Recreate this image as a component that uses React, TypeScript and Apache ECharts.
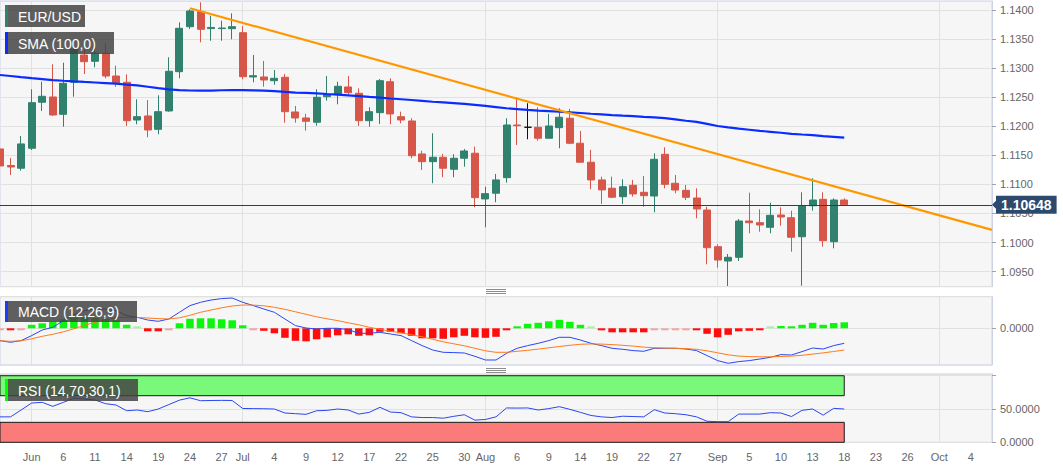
import React, { useEffect, useRef } from "react";
import * as echarts from "echarts";

// ---------- DATA ----------
const dates: string[] = [
  "2019-05-29", "2019-05-30", "2019-05-31",
  "2019-06-03", "2019-06-04", "2019-06-05", "2019-06-06", "2019-06-07",
  "2019-06-10", "2019-06-11", "2019-06-12", "2019-06-13", "2019-06-14",
  "2019-06-17", "2019-06-18", "2019-06-19", "2019-06-20", "2019-06-21",
  "2019-06-24", "2019-06-25", "2019-06-26", "2019-06-27", "2019-06-28",
  "2019-07-01", "2019-07-02", "2019-07-03", "2019-07-04", "2019-07-05",
  "2019-07-08", "2019-07-09", "2019-07-10", "2019-07-11", "2019-07-12",
  "2019-07-15", "2019-07-16", "2019-07-17", "2019-07-18", "2019-07-19",
  "2019-07-22", "2019-07-23", "2019-07-24", "2019-07-25", "2019-07-26",
  "2019-07-29", "2019-07-30", "2019-07-31",
  "2019-08-01", "2019-08-02",
  "2019-08-05", "2019-08-06", "2019-08-07", "2019-08-08", "2019-08-09",
  "2019-08-12", "2019-08-13", "2019-08-14", "2019-08-15", "2019-08-16",
  "2019-08-19", "2019-08-20", "2019-08-21", "2019-08-22", "2019-08-23",
  "2019-08-26", "2019-08-27", "2019-08-28", "2019-08-29", "2019-08-30",
  "2019-09-02", "2019-09-03", "2019-09-04", "2019-09-05", "2019-09-06",
  "2019-09-09", "2019-09-10", "2019-09-11", "2019-09-12", "2019-09-13",
  "2019-09-16", "2019-09-17", "2019-09-18", "2019-09-19", "2019-09-20",
  "2019-09-23", "2019-09-24", "2019-09-25", "2019-09-26", "2019-09-27",
  "2019-09-30",
  "2019-10-01", "2019-10-02", "2019-10-03", "2019-10-04",
  "2019-10-07", "2019-10-08",
];

const tickLabels: Record<string, string> = {
  "2019-06-03": "Jun", "2019-06-06": "6", "2019-06-11": "11", "2019-06-14": "14",
  "2019-06-19": "19", "2019-06-24": "24", "2019-06-27": "27",
  "2019-07-01": "Jul", "2019-07-04": "4", "2019-07-09": "9", "2019-07-12": "12",
  "2019-07-17": "17", "2019-07-22": "22", "2019-07-25": "25", "2019-07-30": "30",
  "2019-08-01": "Aug", "2019-08-06": "6", "2019-08-09": "9", "2019-08-14": "14",
  "2019-08-19": "19", "2019-08-22": "22", "2019-08-27": "27",
  "2019-09-02": "Sep", "2019-09-05": "5", "2019-09-10": "10", "2019-09-13": "13",
  "2019-09-18": "18", "2019-09-23": "23", "2019-09-26": "26",
  "2019-10-01": "Oct", "2019-10-04": "4",
};

const monthStarts: string[] = ["2019-06-03", "2019-07-01", "2019-08-01", "2019-09-02", "2019-10-01"];

// [open, close, low, high]
const ohlc: number[][] = [
  [1.1161, 1.11317, 1.11249, 1.11735],
  [1.11325, 1.113, 1.11163, 1.11455],
  [1.11278, 1.11696, 1.11237, 1.11833],
  [1.11622, 1.12406, 1.11592, 1.12636],
  [1.12413, 1.12516, 1.12263, 1.12767],
  [1.12504, 1.12194, 1.1218, 1.13066],
  [1.12206, 1.12739, 1.11993, 1.13094],
  [1.12757, 1.13329, 1.12509, 1.13398],
  [1.13226, 1.13111, 1.12899, 1.13312],
  [1.13118, 1.13255, 1.13015, 1.13341],
  [1.13255, 1.12865, 1.12825, 1.13427],
  [1.12865, 1.1275, 1.12681, 1.13042],
  [1.12757, 1.12096, 1.12005, 1.12894],
  [1.12108, 1.12165, 1.12034, 1.12464],
  [1.12177, 1.11936, 1.11811, 1.12452],
  [1.11948, 1.12251, 1.11862, 1.12533],
  [1.12263, 1.12946, 1.1225, 1.13187],
  [1.12939, 1.13685, 1.12825, 1.13788],
  [1.13713, 1.13983, 1.13673, 1.14012],
  [1.13971, 1.13668, 1.13445, 1.14132],
  [1.1368, 1.137, 1.13472, 1.13902],
  [1.1368, 1.1369, 1.13472, 1.13816],
  [1.13679, 1.13713, 1.13496, 1.13943],
  [1.1361, 1.12853, 1.12808, 1.13725],
  [1.12848, 1.1287, 1.12757, 1.13226],
  [1.12848, 1.12796, 1.12681, 1.13123],
  [1.12784, 1.12825, 1.12715, 1.12968],
  [1.12843, 1.12251, 1.12062, 1.12899],
  [1.12246, 1.12143, 1.12062, 1.12349],
  [1.12143, 1.12086, 1.11924, 1.12212],
  [1.12069, 1.12499, 1.1201, 1.12636],
  [1.12509, 1.12543, 1.1244, 1.12865],
  [1.1255, 1.12688, 1.12378, 1.12767],
  [1.12676, 1.12578, 1.1255, 1.12865],
  [1.12567, 1.12096, 1.12005, 1.12653],
  [1.12096, 1.12251, 1.11993, 1.12327],
  [1.12234, 1.12784, 1.1204, 1.12813],
  [1.12767, 1.12212, 1.12034, 1.12825],
  [1.12165, 1.12108, 1.12051, 1.12251],
  [1.12091, 1.11494, 1.1145, 1.12138],
  [1.11524, 1.11391, 1.11249, 1.1158],
  [1.11391, 1.11467, 1.1102, 1.1188],
  [1.11467, 1.11278, 1.11123, 1.11524],
  [1.1126, 1.1145, 1.11123, 1.11519],
  [1.1145, 1.11575, 1.11305, 1.1161],
  [1.11536, 1.10772, 1.10607, 1.11649],
  [1.1075, 1.10841, 1.10263, 1.10961],
  [1.10848, 1.11077, 1.10693, 1.1118],
  [1.11116, 1.12022, 1.1103, 1.12138],
  [1.12022, 1.1201, 1.11678, 1.12499],
  [1.11983, 1.11983, 1.11776, 1.12396],
  [1.11983, 1.11794, 1.11753, 1.12327],
  [1.11794, 1.12005, 1.1179, 1.12212],
  [1.11976, 1.12155, 1.11622, 1.1231],
  [1.12138, 1.11708, 1.11691, 1.12298],
  [1.11708, 1.11381, 1.1138, 1.11919],
  [1.11381, 1.11077, 1.10917, 1.11593],
  [1.11077, 1.10905, 1.10664, 1.11133],
  [1.10934, 1.10779, 1.10762, 1.11133],
  [1.10789, 1.10961, 1.10664, 1.11089],
  [1.10985, 1.10836, 1.10789, 1.11077],
  [1.10864, 1.10806, 1.10616, 1.11144],
  [1.108, 1.11432, 1.1052, 1.11535],
  [1.11518, 1.11001, 1.10933, 1.11638],
  [1.11019, 1.10903, 1.10847, 1.11162],
  [1.10898, 1.10778, 1.10731, 1.10989],
  [1.10766, 1.10577, 1.10417, 1.10933],
  [1.10559, 1.09911, 1.09625, 1.10616],
  [1.09928, 1.09699, 1.09567, 1.09969],
  [1.09682, 1.09746, 1.09252, 1.09802],
  [1.09746, 1.1037, 1.09682, 1.10405],
  [1.1037, 1.10341, 1.10159, 1.10857],
  [1.10341, 1.10301, 1.10186, 1.10571],
  [1.10262, 1.10468, 1.10159, 1.10685],
  [1.10473, 1.10439, 1.10289, 1.10606],
  [1.10427, 1.1009, 1.09842, 1.10547],
  [1.101, 1.10633, 1.09257, 1.10864],
  [1.10633, 1.10731, 1.10547, 1.11105],
  [1.10743, 1.10031, 1.09928, 1.10864],
  [1.10014, 1.10731, 1.099, 1.1076],
  [1.10731, 1.10648, 1.1064, 1.1076],
];

const sma100: number[] = [
  1.12882, 1.12865, 1.12845, 1.12827, 1.12812, 1.12795, 1.12783, 1.12772, 1.12762, 1.12753,
  1.12743, 1.12733, 1.12718, 1.12703, 1.1268, 1.12655, 1.12635, 1.12622, 1.12615, 1.12612,
  1.12614, 1.1262, 1.12624, 1.12623, 1.12618, 1.12613, 1.12605, 1.12592, 1.1258, 1.12573,
  1.12565, 1.12555, 1.12546, 1.12533, 1.1252, 1.12505, 1.12492, 1.12478, 1.12465, 1.12452,
  1.12437, 1.12422, 1.1241, 1.12398, 1.12385, 1.12368, 1.1235, 1.1233, 1.1231, 1.12296,
  1.12282, 1.1227, 1.12262, 1.1225, 1.1224, 1.12228, 1.12215, 1.12204, 1.12193, 1.12183,
  1.12174, 1.12162, 1.12152, 1.1214, 1.12118, 1.12095, 1.12075, 1.1204, 1.12005, 1.1198,
  1.11958, 1.1194, 1.11922, 1.11905, 1.11888, 1.1187, 1.11858, 1.11848, 1.1183, 1.11818,
  1.11803,
];

const trendStartDate = "2019-06-24";
const trendStartValue = 1.1403;
const trendEndDate = "2019-10-08";
const trendEndValue = 1.10217;
const lastPrice = 1.10648;

const macdLine: number[] = [
  -0.00123, -0.0014, -0.00123, -0.00073, -0.00017, 0.0001, 0.00077, 0.00137, 0.00177, 0.00193,
  0.00193, 0.00177, 0.00127, 0.0011, 0.00083, 0.0007, 0.00093, 0.0016, 0.00227, 0.0026,
  0.00283, 0.00297, 0.00303, 0.0026, 0.00227, 0.00193, 0.0016, 0.00093, 0.00027, 0.00003,
  -0.00007, 0.0, 0.0, -0.00013, -0.0005, -0.0005, -0.0004, -0.00057, -0.00073, -0.00123,
  -0.00173, -0.00217, -0.0024, -0.00243, -0.00247, -0.0028, -0.00317, -0.00317, -0.0025, -0.002,
  -0.00173, -0.0015, -0.00123, -0.0009, -0.0009, -0.00117, -0.0015, -0.00173, -0.002, -0.0021,
  -0.00223, -0.0023, -0.002, -0.002, -0.002, -0.00207, -0.00223, -0.00273, -0.00323, -0.0035,
  -0.00333, -0.00323, -0.00307, -0.0029, -0.00263, -0.00267, -0.00233, -0.00197, -0.00207, -0.00173,
  -0.0015,
];

const macdSignal: number[] = [
  -0.00125, -0.0013, -0.00125, -0.00105, -0.0008, -0.0006, -0.00035, -0.00005, 0.0003, 0.0006,
  0.00085, 0.00105, 0.0011, 0.00108, 0.00103, 0.00097, 0.00093, 0.00105, 0.0013, 0.0016,
  0.00183, 0.00205, 0.00223, 0.00233, 0.00232, 0.00225, 0.0021, 0.0019, 0.00165, 0.0014,
  0.00115, 0.00095, 0.00077, 0.00055, 0.00035, 0.0001, -0.0001, -0.0003, -0.00045, -0.00065,
  -0.00085, -0.0011, -0.00135, -0.00155, -0.00175, -0.002, -0.00225, -0.0024, -0.0024, -0.0023,
  -0.0022, -0.00208, -0.00195, -0.00182, -0.0017, -0.0016, -0.00156, -0.00158, -0.00163, -0.0017,
  -0.00178, -0.00188, -0.00195, -0.00198, -0.002, -0.00203, -0.0021, -0.00225, -0.00245, -0.00265,
  -0.00278, -0.00283, -0.00285, -0.00285, -0.00282, -0.00278, -0.0027, -0.00258, -0.00246, -0.00232,
  -0.00217,
];

const macdHist: number[] = [
  -0.00003, -0.00008, -0.00003, 0.00035, 0.0005, 0.00065, 0.0009, 0.0011, 0.0011, 0.001,
  0.0009, 0.0008, 0.00035, 0.00003, -0.0003, -0.0003, -0.00003, 0.0005, 0.00095, 0.001,
  0.001, 0.0009, 0.0008, 0.0003, -0.00003, -0.00025, -0.0005, -0.00095, -0.00125, -0.0013,
  -0.0011, -0.0009, -0.0007, -0.0006, -0.00075, -0.0007, -0.00035, -0.00035, -0.0005, -0.00075,
  -0.001, -0.001, -0.00105, -0.0009, -0.00075, -0.0009, -0.00095, -0.00085, -0.0001, 0.0002,
  0.00045, 0.00055, 0.0007, 0.00085, 0.00065, 0.00035, 0.00003, -0.00015, -0.0004, -0.0004,
  -0.0004, -0.0004, -0.00005, -0.00005, -0.00005, -0.00005, -0.00015, -0.00055, -0.0009, -0.00065,
  -0.0003, -0.00025, -0.0001, 0.00003, 0.00023, 0.00017, 0.00035, 0.00055, 0.00035, 0.00053,
  0.0006,
];

const rsi14: number[] = [
  38.2, 38.2, 48.5, 59, 60, 54, 60, 66.2, 65, 63.6,
  58, 56, 47.4, 48.5, 46, 50, 56.7, 63.3, 66.8, 62.5,
  62.8, 63, 62.8, 50.8, 50.6, 50.4, 50, 44, 43, 42,
  47.4, 48, 50, 48.5, 42.4, 45, 52.6, 45.5, 44.5, 38.2,
  37.2, 37.2, 36.2, 39, 41.4, 33.3, 34.3, 38.2, 51.6, 51.4,
  51.6, 48.5, 50.6, 53.5, 49.5, 45, 40.3, 38.2, 37.2, 39.2,
  38.7, 38.2, 49, 44, 43, 41.4, 38.2, 31.6, 31, 31,
  42.4, 42.4, 42.4, 44.5, 44, 38.7, 48, 50, 40.8, 51,
  50,
];

const rsiUpper = 70;
const rsiLower = 30;

// ---------- STYLE ----------
const FONT = '"Liberation Sans", Arial, sans-serif';
const UP = "#30816d";
const DOWN = "#d6574a";
const GRID_BG = "#f6f6f6";
const BORDER = "#cdd3e3";
const SPLIT = "#e1e1e1";
const TAG = "#2c4a6e";

function labelBox(x: number, y: number, w: number, h: number, text: string, strip: string) {
  return {
    type: "group",
    x,
    y,
    z: 100,
    silent: true,
    children: [
      { type: "rect", shape: { x: 0, y: 0, width: w, height: h }, style: { fill: "rgba(66,66,66,0.84)" }, z: 100 },
      { type: "rect", shape: { x: 0, y: 0, width: 3, height: h }, style: { fill: strip }, z: 101 },
      {
        type: "text",
        x: 13,
        y: h / 2 + 0.5,
        z: 102,
        style: { text, fill: "#ffffff", fontSize: 14, fontFamily: FONT, verticalAlign: "middle", align: "left" },
      },
    ],
  };
}

function grip(x: number, y: number) {
  return {
    type: "group",
    x,
    y,
    z: 100,
    silent: true,
    children: [0, 2, 4].map((dy) => ({
      type: "rect",
      shape: { x: 0, y: dy, width: 20, height: 1 },
      style: { fill: "#8c8c8c" },
    })),
  };
}

export default function App() {
  const ref = useRef<HTMLDivElement>(null);

  useEffect(() => {
    if (!ref.current) return;
    const chart = echarts.init(ref.current, undefined, { renderer: "svg" });

    const monthSplit = (_i: number, v: string) => monthStarts.indexOf(v) >= 0;

    const xBase = (gridIndex: number, showLabels: boolean) => ({
      type: "category",
      gridIndex,
      data: dates,
      boundaryGap: false,
      axisLine: { show: false },
      axisTick: { show: false },
      axisLabel: showLabels
        ? {
            show: true,
            interval: (_i: number, v: string) => !!tickLabels[v],
            formatter: (v: string) => tickLabels[v] || "",
            color: "#666",
            fontSize: 11,
            fontFamily: FONT,
            margin: 9,
          }
        : { show: false },
      splitLine: { show: true, interval: monthSplit, lineStyle: { color: SPLIT, width: 1 } },
    });

    const yBase = {
      position: "right",
      axisLine: { show: true, lineStyle: { color: BORDER } },
      axisTick: { show: true, length: 4, lineStyle: { color: "#9aa3b8" } },
      splitLine: { show: true, lineStyle: { color: SPLIT, width: 1 } },
      axisLabel: { color: "#666", fontSize: 11, fontFamily: FONT, margin: 8, showMinLabel: false, showMaxLabel: false },
    };

    const isMultiple = (v: number, step: number) => Math.abs(v / step - Math.round(v / step)) < 1e-6;

    const option: any = {
      animation: false,
      backgroundColor: "#ffffff",
      grid: [
        { left: 0, top: 1, width: 992, height: 285.7, show: true, backgroundColor: GRID_BG, borderColor: BORDER, borderWidth: 1, outerBoundsMode: "none" },
        { left: 0, top: 296.7, width: 992, height: 68.3, show: true, backgroundColor: GRID_BG, borderColor: BORDER, borderWidth: 1, outerBoundsMode: "none" },
        { left: 0, top: 374, width: 992, height: 68.3, show: true, backgroundColor: GRID_BG, borderColor: BORDER, borderWidth: 1, outerBoundsMode: "none" },
      ],
      xAxis: [xBase(0, false), xBase(1, false), xBase(2, true)],
      yAxis: [
        {
          ...yBase,
          type: "value",
          gridIndex: 0,
          min: 1.0924,
          max: 1.14155,
          splitNumber: 10,
          scale: true,
          axisLabel: { ...yBase.axisLabel, formatter: (v: number) => (isMultiple(v, 0.005) ? v.toFixed(4) : "") },
        },
        {
          ...yBase,
          type: "value",
          gridIndex: 1,
          min: -0.00367,
          max: 0.00316,
          splitNumber: 1,
          axisLabel: { ...yBase.axisLabel, formatter: (v: number) => (Math.abs(v) < 1e-9 ? "0.0000" : "") },
        },
        {
          ...yBase,
          type: "value",
          gridIndex: 2,
          min: 0,
          max: 102.6,
          splitNumber: 2,
          axisLabel: {
            ...yBase.axisLabel,
            showMinLabel: true,
            formatter: (v: number) => (Math.abs(v) < 1e-9 || Math.abs(v - 50) < 1e-9 ? v.toFixed(4) : ""),
          },
        },
      ],
      graphic: [
        labelBox(5, 5, 80, 22, "EUR/USD", UP),
        labelBox(5, 32, 109, 22, "SMA (100,0)", "#0a2cff"),
        labelBox(5, 301, 132, 21, "MACD (12,26,9)", "#1a3cff"),
        labelBox(5, 379, 133, 22, "RSI (14,70,30,1)", "#00ff00"),
        grip(486, 289),
        grip(486, 368),
      ],
      series: [
        {
          name: "EUR/USD",
          type: "candlestick",
          xAxisIndex: 0,
          yAxisIndex: 0,
          data: ohlc,
          barWidth: 7.5,
          clip: true,
          z: 2,
          itemStyle: {
            color: UP,
            color0: DOWN,
            borderColor: UP,
            borderColor0: DOWN,
            borderColorDoji: "#111111",
            borderWidth: 1,
          },
        },
        {
          name: "SMA (100,0)",
          type: "line",
          xAxisIndex: 0,
          yAxisIndex: 0,
          data: sma100,
          symbol: "none",
          z: 4,
          lineStyle: { color: "#0a2cff", width: 2.2 },
        },
        {
          name: "Trend",
          type: "line",
          xAxisIndex: 0,
          yAxisIndex: 0,
          data: [
            [trendStartDate, trendStartValue],
            [trendEndDate, trendEndValue],
          ],
          symbol: "none",
          z: 4,
          lineStyle: { color: "#ff9800", width: 2.2 },
          markLine: {
            silent: true,
            precision: 5,
            symbol: ["none", "none"],
            z: 5,
            lineStyle: { color: "#2b3d5a", width: 1.2, type: "solid" },
            label: {
              show: true,
              position: "end",
              distance: 4,
              formatter: () => lastPrice.toFixed(5),
              color: "#ffffff",
              fontWeight: "bold",
              fontSize: 14,
              fontFamily: FONT,
              backgroundColor: TAG,
              padding: [1, 5, 1, 5],
              lineHeight: 16,
            },
            data: [{ yAxis: lastPrice }],
          },
          markPoint: {
            silent: true,
            symbol: "triangle",
            symbolSize: [10, 5],
            symbolRotate: 90,
            symbolOffset: [2.5, 0],
            itemStyle: { color: TAG },
            label: { show: false },
            data: [{ coord: [trendEndDate, lastPrice] }],
          },
        },
        {
          name: "MACD hist",
          type: "bar",
          xAxisIndex: 1,
          yAxisIndex: 1,
          data: macdHist,
          barWidth: 7.5,
          barMinHeight: 2,
          z: 2,
          itemStyle: {
            color: (p: any) => {
              const v = p.value as number;
              if (Math.abs(v) < 0.00006) return v >= 0 ? "#a8f2a8" : "#f3a5a5";
              return v >= 0 ? "#0cf50c" : "#ff0c0c";
            },
          },
        },
        {
          name: "MACD",
          type: "line",
          xAxisIndex: 1,
          yAxisIndex: 1,
          data: macdLine,
          symbol: "none",
          z: 4,
          lineStyle: { color: "#2a46f0", width: 1 },
        },
        {
          name: "Signal",
          type: "line",
          xAxisIndex: 1,
          yAxisIndex: 1,
          data: macdSignal,
          symbol: "none",
          z: 4,
          lineStyle: { color: "#ff7a1c", width: 1 },
        },
        {
          name: "RSI",
          type: "line",
          xAxisIndex: 2,
          yAxisIndex: 2,
          data: rsi14,
          symbol: "none",
          z: 4,
          lineStyle: { color: "#2a46f0", width: 1 },
          markArea: {
            silent: true,
            data: [
              [
                { xAxis: dates[0], yAxis: rsiUpper, itemStyle: { color: "#7af87a", borderColor: "#1a1a1a", borderWidth: 1 } },
                { xAxis: dates[rsi14.length - 1], yAxis: 100 },
              ],
              [
                { xAxis: dates[0], yAxis: 0, itemStyle: { color: "#fb7b7b", borderColor: "#1a1a1a", borderWidth: 1 } },
                { xAxis: dates[rsi14.length - 1], yAxis: rsiLower },
              ],
            ],
          },
        },
      ],
    };

    chart.setOption(option);
    return () => chart.dispose();
  }, []);

  return (
    <div
      ref={ref}
      style={{ position: "absolute", left: 0, top: 0, width: 1063, height: 469, background: "#ffffff" }}
    />
  );
}
